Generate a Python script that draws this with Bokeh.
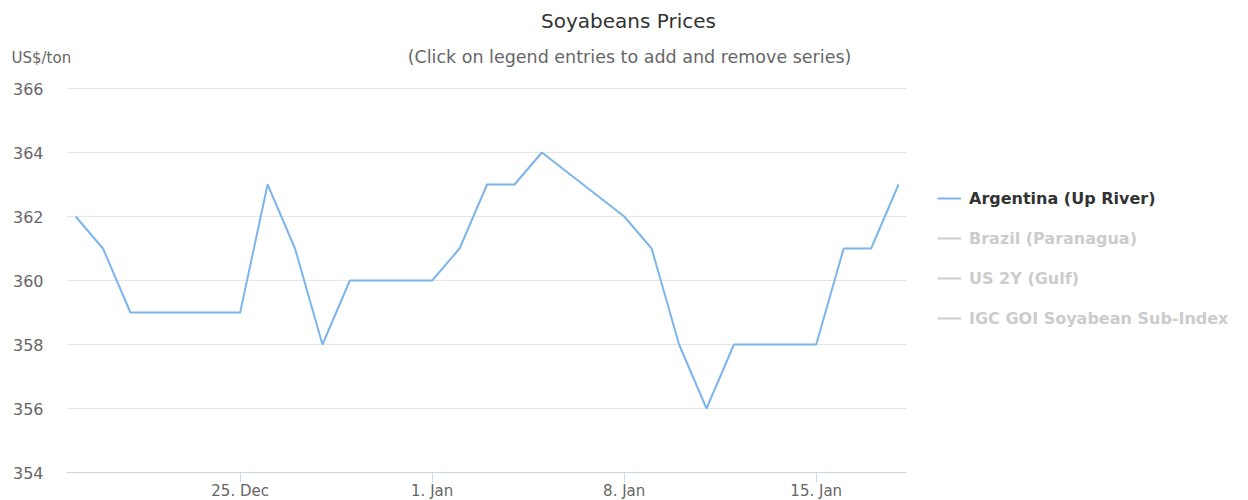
import pandas as pd
from bokeh.plotting import figure
from bokeh.models import Range1d, FixedTicker, Label, Legend, LegendItem
from bokeh.embed import file_html
from bokeh.resources import INLINE

# ---- data ----
dates = ["2017-12-19", "2017-12-20", "2017-12-21", "2017-12-22",
         "2017-12-25", "2017-12-26", "2017-12-27", "2017-12-28", "2017-12-29",
         "2018-01-01", "2018-01-02", "2018-01-03", "2018-01-04", "2018-01-05",
         "2018-01-08", "2018-01-09", "2018-01-10", "2018-01-11", "2018-01-12",
         "2018-01-15", "2018-01-16", "2018-01-17", "2018-01-18"]
argentina = [362, 361, 359, 359,
             359, 363, 361, 358, 360,
             360, 361, 363, 363, 364,
             362, 361, 358, 356, 358,
             358, 361, 361, 363]
# series switched off in the legend: nothing of them is shown in the chart
brazil = [float("nan")]
us_gulf = [float("nan")]
igc_goi = [float("nan")]

series_names = ["Argentina (Up River)", "Brazil (Paranagua)", "US 2Y (Gulf)",
                "IGC GOI Soyabean Sub-Index"]
x_tick_dates = ["2017-12-25", "2018-01-01", "2018-01-08", "2018-01-15"]
x_tick_labels = ["25. Dec", "1. Jan", "8. Jan", "15. Jan"]
y_ticks = [354, 356, 358, 360, 362, 364, 366]

title_text = "Soyabeans Prices"
subtitle_text = "(Click on legend entries to add and remove series)"
unit_text = "US$/ton"


def to_ms(ds):
    return [int(v) // 10**6 for v in pd.to_datetime(ds).astype("int64")]


x = to_ms(dates)
xt = to_ms(x_tick_dates)
DAY = 86400000

FONT = "DejaVu Sans"
W, H = 1248, 500
# plot-area box in page pixels
PL, PR, PT, PB = 66, 906, 88, 472

x_lo = x[0] - 0.33 * DAY
x_hi = x[-1] + 0.29 * DAY
y_lo, y_hi = y_ticks[0], y_ticks[-1]
ppx = (PR - PL) / (x_hi - x_lo)
ppy = (PB - PT) / (y_hi - y_lo)

p = figure(width=W, height=H, output_backend="svg", toolbar_location=None,
           x_range=Range1d(x_lo - PL / ppx, x_hi + (W - PR) / ppx),
           y_range=Range1d(y_lo - (H - PB) / ppy, y_hi + PT / ppy),
           min_border=0, min_border_left=0, min_border_right=0,
           min_border_top=0, min_border_bottom=0)
p.outline_line_color = None
p.xgrid.visible = False
p.ygrid.visible = False

# horizontal grid lines limited to the plot area
p.segment(x0=[x_lo] * len(y_ticks), y0=y_ticks,
          x1=[x_hi] * len(y_ticks), y1=y_ticks,
          line_color="#e6e6e6", line_width=1)

r_arg = p.line(x, argentina, line_color="#7cb5ec", line_width=2)
r_bra = p.line(x[:1], brazil, line_color="#cccccc", line_width=2)
r_us = p.line(x[:1], us_gulf, line_color="#cccccc", line_width=2)
r_igc = p.line(x[:1], igc_goi, line_color="#cccccc", line_width=2)

xa = p.xaxis[0]
xa.fixed_location = y_lo
xa.bounds = (x_lo, x_hi)
xa.ticker = FixedTicker(ticks=xt)
xa.major_label_overrides = {t: lab for t, lab in zip(xt, x_tick_labels)}
xa.axis_line_color = "#ccd6eb"
xa.major_tick_line_color = "#ccd6eb"
xa.major_tick_out = 10
xa.major_tick_in = 0
xa.minor_tick_line_color = None
xa.major_label_standoff = -1
xa.major_label_text_font = FONT
xa.major_label_text_font_size = "15px"
xa.major_label_text_color = "#666666"

ya = p.yaxis[0]
ya.fixed_location = x_lo
ya.bounds = (y_lo, y_hi)
ya.ticker = FixedTicker(ticks=y_ticks)
ya.axis_line_color = None
ya.major_tick_line_color = None
ya.major_tick_out = 0
ya.major_tick_in = 0
ya.minor_tick_line_color = None
ya.major_label_standoff = 23
ya.major_label_text_font = FONT
ya.major_label_text_font_size = "16px"
ya.major_label_text_color = "#666666"

# titles (screen units from the bottom-left corner)
p.add_layout(Label(x=628, y=H - 20, x_units="screen", y_units="screen",
                   text=title_text, text_font=FONT, text_font_size="20px",
                   text_color="#333333", text_align="center",
                   text_baseline="middle"))
p.add_layout(Label(x=629, y=H - 56, x_units="screen", y_units="screen",
                   text=subtitle_text, text_font=FONT, text_font_size="17.5px",
                   text_color="#666666", text_align="center",
                   text_baseline="middle"))
p.add_layout(Label(x=11, y=H - 57, x_units="screen", y_units="screen",
                   text=unit_text, text_font=FONT, text_font_size="15px",
                   text_color="#666666", text_align="left",
                   text_baseline="middle"))

common = dict(orientation="vertical", label_text_font=FONT,
              label_text_font_size="16px", label_text_font_style="bold",
              glyph_width=24, glyph_height=20, label_height=20,
              spacing=20, label_standoff=8, padding=0, margin=0,
              border_line_alpha=0, background_fill_alpha=0)

leg_on = Legend(items=[LegendItem(label=series_names[0], renderers=[r_arg])],
                location=(937, H - 208), label_text_color="#333333",
                click_policy="hide", **common)
leg_off = Legend(items=[LegendItem(label=n, renderers=[r]) for n, r in
                        zip(series_names[1:], [r_bra, r_us, r_igc])],
                 location=(937, H - 328), label_text_color="#cccccc", **common)
p.add_layout(leg_on)
p.add_layout(leg_off)

open("out.html", "w").write(file_html(p, INLINE))
